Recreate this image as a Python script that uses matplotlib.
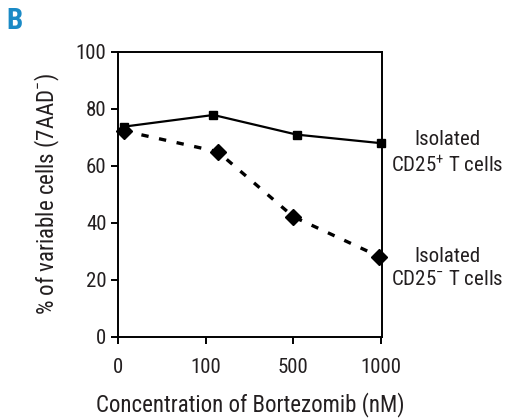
import matplotlib
matplotlib.use("Agg")
import matplotlib.pyplot as plt

plt.rcParams['font.family'] = ['Roboto Condensed', 'DejaVu Sans']
plt.rcParams['mathtext.fontset'] = 'custom'
plt.rcParams['mathtext.rm'] = 'Roboto Condensed'
plt.rcParams['mathtext.it'] = 'Roboto Condensed'
plt.rcParams['mathtext.default'] = 'regular'

# concentrations (category labels) and viability values
conc_labels = ['0', '100', '500', '1000']
x_pos = [0, 1, 2, 3]
x_pos_pos = [0.07, 1.09, 2.04, 3.0]
x_pos_neg = [0.07, 1.14, 2.0, 2.98]
cd25_pos = [73.7, 77.8, 70.9, 67.9]
cd25_neg = [72.2, 64.9, 42.1, 28.1]

txt = '#231f20'

fig = plt.figure(figsize=(5.06, 4.19), dpi=100)
ax = fig.add_axes([0.2326, 0.1964, 0.5224, 0.6802])

ax.plot(x_pos_pos, cd25_pos, '-', color='black', lw=1.6, marker='s', ms=6, clip_on=False)
ax.plot(x_pos_neg, cd25_neg, color='black', lw=2.4, ls=(0, (2.2, 3.2)), marker='D', ms=8, clip_on=False)

ax.set_xlim(0, 3.01)
ax.set_ylim(0, 100)
ax.set_xticks(x_pos)
ax.set_xticklabels(conc_labels)
ax.set_yticks([0, 20, 40, 60, 80, 100])
ax.tick_params(axis='both', direction='out', length=5, width=1.4, labelsize=15,
               labelcolor=txt, pad=3)
ax.tick_params(axis='x', pad=10)
for sp in ax.spines.values():
    sp.set_linewidth(1.4)

ax.set_ylabel('% of variable cells (7AAD$^{-}$)', fontsize=16.5, color=txt, labelpad=10)
ax.set_xlabel('Concentration of Bortezomib (nM)', fontsize=16.5, color=txt, labelpad=11)

fig.text(447 / 506, 1 - 153 / 419, 'Isolated\nCD25$^{+}$ T cells', ha='center', va='center',
         fontsize=15, color=txt, linespacing=1.25)
fig.text(447 / 506, 1 - 268 / 419, 'Isolated\nCD25$^{-}$ T cells', ha='center', va='center',
         fontsize=15, color=txt, linespacing=1.25)

fig.text(6 / 506, 1 - 21 / 419, 'B', color='#1a8ac6', fontsize=21, fontweight='bold',
         ha='left', va='center')

fig.savefig('out.png', dpi=100)
